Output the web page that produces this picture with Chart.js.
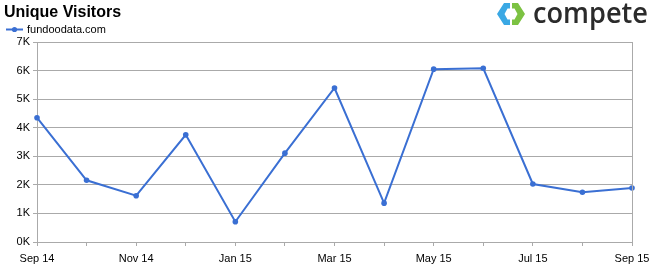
<!DOCTYPE html>
<html>
<head>
<meta charset="utf-8">
<script src="https://cdn.jsdelivr.net/npm/chart.js@4.4.1/dist/chart.umd.min.js"></script>
<style>
  html, body { margin: 0; padding: 0; background: #fff; }
  #wrap { position: relative; width: 658px; height: 268px; }
  #logo { position: absolute; left: 0; top: 0; }
</style>
</head>
<body>
<div id="wrap">
  <canvas id="c" width="658" height="268"></canvas>
  <svg id="logo" width="658" height="34" viewBox="0 0 658 34">
    <g transform="translate(497,3)">
      <polygon points="13,0 7,0 0,11 7,22 13,22 13,16.5 10.5,16.5 7.5,11 10.5,5.5 13,5.5" fill="#3aa8e4"/>
      <polygon points="15,0 21,0 28,11 21,22 15,22 15,16.5 17.5,16.5 20.5,11 17.5,5.5 15,5.5" fill="#7cc242"/>
    </g>
    <text x="533" y="23" font-family="Open Sans, sans-serif" font-weight="600" font-size="28" fill="#2b2b2b" textLength="115" lengthAdjust="spacingAndGlyphs">compete</text>
  </svg>
</div>
<script>
const chartTitle = 'Unique Visitors';
const seriesLabel = 'fundoodata.com';
const categories = ['Sep 14','Oct 14','Nov 14','Dec 14','Jan 15','Feb 15','Mar 15','Apr 15','May 15','Jun 15','Jul 15','Aug 15','Sep 15'];
const visitors = [4350, 2160, 1620, 3750, 710, 3110, 5390, 1360, 6050, 6080, 2030, 1740, 1890];
const yTicks = [0, 1000, 2000, 3000, 4000, 5000, 6000, 7000];

const BLUE = '#3a6fd3';
const GRID = '#aaaaaa';
const FONT = 'Liberation Sans, Arial, sans-serif';

const decorPlugin = {
  id: 'decor',
  afterDraw(chart) {
    const ctx = chart.ctx;
    const a = chart.chartArea;
    ctx.save();
    // right border of plot
    ctx.strokeStyle = GRID;
    ctx.lineWidth = 1;
    ctx.beginPath();
    ctx.moveTo(Math.round(a.right) + 0.5, a.top);
    ctx.lineTo(Math.round(a.right) + 0.5, a.bottom + 4);
    ctx.stroke();
    // title
    ctx.fillStyle = '#000';
    ctx.font = 'bold 16px ' + FONT;
    ctx.textBaseline = 'alphabetic';
    ctx.textAlign = 'left';
    ctx.fillText(chartTitle, 4, 17);
    // legend
    const ds = chart.data.datasets[0];
    ctx.strokeStyle = ds.borderColor;
    ctx.lineWidth = 2;
    ctx.beginPath();
    ctx.moveTo(6, 29.5);
    ctx.lineTo(23, 29.5);
    ctx.stroke();
    ctx.fillStyle = ds.borderColor;
    ctx.beginPath();
    ctx.arc(14.5, 29.5, 2.6, 0, Math.PI * 2);
    ctx.fill();
    ctx.fillStyle = '#000';
    ctx.font = '11px ' + FONT;
    ctx.textBaseline = 'middle';
    ctx.fillText(ds.label, 27, 29.5);
    ctx.restore();
  }
};

new Chart(document.getElementById('c'), {
  type: 'line',
  data: {
    labels: categories,
    datasets: [{
      label: seriesLabel,
      data: visitors,
      borderColor: BLUE,
      backgroundColor: BLUE,
      borderWidth: 2,
      pointRadius: 2.8,
      pointBorderWidth: 0,
      pointBackgroundColor: BLUE,
      tension: 0,
      fill: false
    }]
  },
  options: {
    responsive: false,
    devicePixelRatio: 1,
    animation: false,
    layout: { padding: { top: 42, right: 26, left: 0, bottom: 0 } },
    plugins: {
      legend: { display: false },
      title: { display: false },
      tooltip: { enabled: false }
    },
    scales: {
      x: {
        type: 'category',
        offset: false,
        grid: { display: true, drawOnChartArea: false, drawTicks: true, tickLength: 4, color: GRID },
        border: { display: true, color: GRID, width: 1 },
        ticks: {
          autoSkip: false,
          maxRotation: 0,
          minRotation: 0,
          padding: 6,
          color: '#000',
          font: { family: FONT, size: 11 },
          callback: function(v, i) { return i % 2 === 0 ? categories[i] : ''; }
        },
        afterFit(s) { s.height = 26; }
      },
      y: {
        min: 0,
        max: 7000,
        afterBuildTicks(s) { s.ticks = yTicks.map(v => ({ value: v })); },
        grid: { color: GRID, tickLength: 4, drawTicks: true },
        border: { display: true, color: GRID, width: 1 },
        ticks: {
          padding: 3,
          color: '#000',
          font: { family: FONT, size: 11 },
          callback: v => (v / 1000) + 'K'
        },
        afterFit(s) { s.width = 37; }
      }
    }
  },
  plugins: [decorPlugin]
});
</script>
</body>
</html>
